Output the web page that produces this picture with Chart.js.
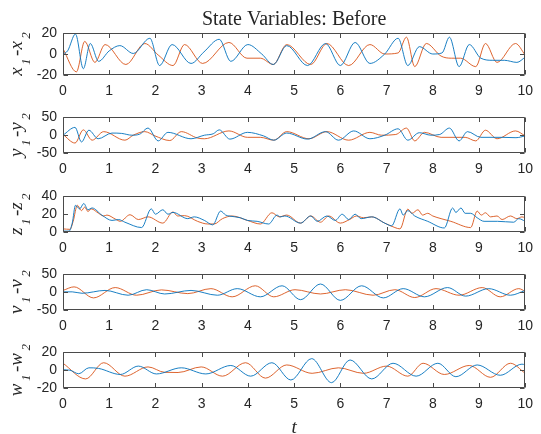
<!DOCTYPE html>
<html><head><meta charset="utf-8">
<script src="https://cdn.jsdelivr.net/npm/chart.js@4"></script>
<style>
html,body{margin:0;padding:0;background:#fff;}
#wrap{position:relative;width:541px;height:434px;overflow:hidden;background:#fff;}
canvas{position:absolute;left:0;}
</style>
</head><body><div id="wrap"></div>
<script>
// ---- data ----
const xTicks = [0,1,2,3,4,5,6,7,8,9,10];

const xBlueT = [0,0.1,0.27,0.44,0.59,0.77,1.0,1.23,1.52,1.88,2.09,2.36,2.77,3.05,3.38,3.63,4.0,4.3,4.55,4.84,5.29,5.68,6.0,6.32,6.64,6.96,7.25,7.46,7.71,8.0,8.2,8.36,8.57,8.79,9.04,9.3,9.55,9.82,10];
const xBlueV = [0,3,19,-14,10,-7,3,8,0.5,15,-11,9,-9,2,14,-7,9,0,-10,8,-11,10,-11,11,-9,0,15,-11,7,0,1,16,-12,9,-4,-6,-6,-8,-3];
const xOrangeT = [0,0.29,0.47,0.69,0.91,1.36,1.77,2.06,2.38,2.63,3.02,3.59,3.98,4.27,4.55,4.84,5.36,5.71,6.18,6.64,6.96,7.25,7.43,7.61,7.86,8.18,8.4,8.6,8.93,9.14,9.39,9.79,10];
const xOrangeV = [5,-17,12,-8,9,-10,10,-1,-11,9,-9,11,-4,-4,-10,9,-10,10,-11,9,0,1,16,-12,10,-2,-4,-4,-12,10,-8,10,-1];

const yBlueT = [0,0.26,0.4,0.56,0.76,1.06,1.27,1.49,1.66,1.84,2.06,2.27,2.77,3.06,3.25,3.38,3.61,3.99,4.34,4.56,4.84,5.29,5.68,5.96,6.29,6.64,6.96,7.25,7.46,7.71,7.96,8.15,8.36,8.57,8.75,9.04,9.5,9.8,10];
const yBlueV = [0,22,-19,14,-10,6,5,0,3,20,-16,8,-10,0,4,15,-11,8,-2,-14,6,-11,10,-14,12,-10,0,18,-14,7,0,2,20,-16,10,-6,-6,-7,-2];
const yOrangeT = [0,0.26,0.44,0.63,0.88,1.34,1.52,1.77,1.99,2.31,2.56,2.91,3.06,3.59,3.99,4.27,4.56,4.84,5.32,5.71,6.18,6.64,6.89,7.2,7.43,7.61,7.82,8.18,8.7,8.93,9.14,9.39,9.79,10];
const yOrangeV = [2,-22,15,-14,10,-14,0,10,-2,-15,10,-8,-10,12,-6,-6,-14,10,-10,10,-14,8,0,2,20,-16,8,-6,-6,-16,14,-10,12,-2];

const zBlueT = [0,0.13,0.2,0.27,0.36,0.45,0.54,0.63,0.84,1.06,1.2,1.34,1.7,1.91,2.0,2.16,2.27,2.38,2.7,2.84,3.06,3.24,3.41,3.52,3.59,3.84,3.99,4.2,4.45,4.63,4.7,4.8,5.14,5.36,5.5,5.71,5.89,6.04,6.18,6.32,6.45,6.68,6.96,7.11,7.29,7.36,7.46,7.61,7.89,8.25,8.43,8.5,8.61,8.7,8.82,8.96,9.11,9.4,9.75,9.86,10];
const zBlueV = [1,1,10,30,26,32,25,27,19,13,14,11,5,26,20,25,20,22,15,17,13,8,23.5,19,18,16,13,12,9,19,17,18,10,18,12,18,13,20,14,20,15,17,10,7,26,19,24,18,12,4.5,27,22,27,21,21,16,12,12,11,15,12];
const zOrangeT = [0,0.15,0.22,0.31,0.4,0.47,0.54,0.61,0.77,0.88,0.95,1.13,1.24,1.45,1.63,1.84,2.16,2.38,2.48,2.63,2.91,3.13,3.27,3.45,3.66,3.99,4.27,4.52,4.68,4.84,5.14,5.36,5.57,5.75,6.0,6.2,6.35,6.5,6.68,6.96,7.18,7.29,7.46,7.55,7.68,7.78,7.89,8.0,8.18,8.39,8.82,8.96,9.05,9.14,9.25,9.39,9.5,9.68,9.82,9.93,10];
const zOrangeV = [3.5,3,12,30,24,28,23,26,21,18,19,14.6,12,19.4,14,17,10,22.5,18,18.4,12,9,9,15,18,13,9,21.6,17,19,10,18,11,18,10,14,18,16,17,10,5,3.5,25.7,21,25,19,21,18,15,12,5,23.5,19,21.6,17,18,14,18,15,17,16];

const vBlueT = [0,0.2,0.41,0.91,1.41,1.81,2.2,2.77,3.34,3.77,4.27,4.74,5.14,5.57,6.0,6.46,6.93,7.36,7.82,8.32,8.71,9.21,9.68,10];
const vBlueV = [1,1,-3,5,-8.5,7,-5,5,-8.5,10,-13,18,-21,23,-23,18,-16,10,-13,13,-11,10,-8.5,5];
const vOrangeT = [0,0.24,0.66,1.13,1.59,2.13,2.7,3.2,3.66,4.16,4.56,5.02,5.57,6.11,6.71,7.18,7.61,8.07,8.57,9.07,9.46,9.86,10];
const vOrangeV = [5,15,-16,13,-8.5,6.5,-4,10,-13,18,-13,7,-5,7,-8.5,7,-15,10,-8.5,13,-13,10,2.5];

const wBlueT = [0,0.15,0.34,0.56,0.77,1.24,1.63,2.02,2.56,3.09,3.63,4.06,4.52,4.93,5.38,5.81,6.21,6.68,7.14,7.64,8.11,8.5,8.96,9.46,9.93,10];
const wBlueV = [0.5,0,-4,2.7,2,-4.8,4.6,-4.2,2.7,-4.2,5.3,-6.7,8.4,-11,13,-14,11.5,-9.8,7.8,-6.7,7.8,-7.3,5.9,-5.7,6.8,6];
const wOrangeT = [0,0.49,0.88,1.34,1.84,2.2,2.49,2.99,3.45,3.95,4.38,4.84,5.39,5.96,6.5,7.0,7.46,7.79,8.25,8.79,9.25,9.68,10];
const wOrangeV = [7.8,-9.8,8.4,-6.7,3.7,-2.4,-2.6,3.7,-6.7,8.4,-8.9,5.9,-3.5,2.7,-3.5,4.6,-6.7,7.8,-4.8,5.3,-8,7.8,-3.5];

const yTicksXW = [-20, 0, 20];
const yTicksYV = [-50, 0, 50];
const yTicksZ = [0, 20, 40];

const titleText = 'State Variables: Before';
const xLabelText = 't';

// ---- style ----
const BLUE = '#0072BD', ORANGE = '#D95319';
const AXIS = '#4a4a4a', TEXT = '#262626';
const SANS = "'Liberation Sans', Arial, sans-serif";
const SERIF = "'Liberation Serif', 'Times New Roman', serif";
const LEFT = 63, RIGHT_PAD = 10, PLOT_H = 42, XAX_H = 22, TL = 4.5;

const panels = [
  {letter:'x', bt:xBlueT, bv:xBlueV, ot:xOrangeT, ov:xOrangeV, yt:yTicksXW, top:33},
  {letter:'y', bt:yBlueT, bv:yBlueV, ot:yOrangeT, ov:yOrangeV, yt:yTicksYV, top:111},
  {letter:'z', bt:zBlueT, bv:zBlueV, ot:zOrangeT, ov:zOrangeV, yt:yTicksZ, top:190},
  {letter:'v', bt:vBlueT, bv:vBlueV, ot:vOrangeT, ov:vOrangeV, yt:yTicksYV, top:268},
  {letter:'w', bt:wBlueT, bv:wBlueV, ot:wOrangeT, ov:wOrangeV, yt:yTicksXW, top:346}
];

const pts = (t, v) => t.map((tt, i) => ({x: tt, y: v[i]}));

const boxPlugin = {
  id: 'boxPlugin',
  afterDatasetsDraw(chart, args, o) {
    const {ctx, chartArea: a, scales: {x, y}} = chart;
    const L = Math.round(a.left) + 0.5, R = Math.round(a.right) - 0.5;
    const T = Math.round(a.top) + 0.5, B = Math.round(a.bottom) - 0.5;
    ctx.save();
    ctx.strokeStyle = AXIS; ctx.lineWidth = 1;
    ctx.beginPath();
    ctx.moveTo(L, T); ctx.lineTo(R, T); ctx.lineTo(R, B); ctx.lineTo(L, B); ctx.closePath();
    x.ticks.forEach(tk => {
      const px = Math.round(x.getPixelForValue(tk.value)) + 0.5;
      ctx.moveTo(px, B); ctx.lineTo(px, B - TL);
      ctx.moveTo(px, T); ctx.lineTo(px, T + TL);
    });
    y.ticks.forEach(tk => {
      const py = Math.round(y.getPixelForValue(tk.value)) + 0.5;
      ctx.moveTo(L, py); ctx.lineTo(L + TL, py);
      ctx.moveTo(R, py); ctx.lineTo(R - TL, py);
    });
    ctx.stroke();

    // y label with subscripts, rotated
    const cy = (a.top + a.bottom) / 2;
    const parts = [[o.letter, 19, 0], ['1', 13, 8], ['-' + o.letter, 19, 0], ['2', 13, 8]];
    const gap = 2.5;
    let total = 0;
    parts.forEach(p => { ctx.font = 'italic ' + p[1] + 'px ' + SERIF; total += ctx.measureText(p[0]).width + gap; });
    total -= gap;
    ctx.translate(22, cy);
    ctx.rotate(-Math.PI / 2);
    ctx.fillStyle = TEXT; ctx.textBaseline = 'alphabetic'; ctx.textAlign = 'left';
    let cx = -total / 2;
    parts.forEach(p => {
      ctx.font = 'italic ' + p[1] + 'px ' + SERIF;
      ctx.fillText(p[0], cx, p[2]);
      cx += ctx.measureText(p[0]).width + gap;
    });
    ctx.restore();

    ctx.save();
    ctx.fillStyle = TEXT; ctx.textAlign = 'center'; ctx.textBaseline = 'alphabetic';
    if (o.title) {
      ctx.font = '20px ' + SERIF;
      ctx.fillText(o.title, (a.left + a.right) / 2, a.top - 8);
    }
    if (o.xlabel) {
      ctx.font = 'italic 19px ' + SERIF;
      ctx.fillText(o.xlabel, (a.left + a.right) / 2, a.bottom + 45);
    }
    ctx.restore();
  }
};

const wrap = document.getElementById('wrap');
panels.forEach((p, i) => {
  const padTop = i === 0 ? p.top : 8;
  const padBottom = i === panels.length - 1 ? 24 : 0;
  const h = padTop + PLOT_H + XAX_H + padBottom;
  const c = document.createElement('canvas');
  c.width = 541; c.height = h;
  c.style.top = (p.top - padTop) + 'px';
  c.style.width = '541px'; c.style.height = h + 'px';
  wrap.appendChild(c);
  new Chart(c, {
    type: 'line',
    data: {
      datasets: [
        {data: pts(p.bt, p.bv), borderColor: BLUE, borderWidth: 0.9, pointRadius: 0, cubicInterpolationMode: 'monotone', fill: false},
        {data: pts(p.ot, p.ov), borderColor: ORANGE, borderWidth: 0.9, pointRadius: 0, cubicInterpolationMode: 'monotone', fill: false}
      ]
    },
    options: {
      responsive: false, animation: false, devicePixelRatio: 1,
      layout: {padding: {top: padTop, right: RIGHT_PAD, left: 0, bottom: padBottom}},
      plugins: {
        legend: {display: false}, tooltip: {enabled: false},
        boxPlugin: {letter: p.letter, title: i === 0 ? titleText : null, xlabel: i === panels.length - 1 ? xLabelText : null}
      },
      scales: {
        x: {
          type: 'linear', min: 0, max: 10,
          afterBuildTicks: s => { s.ticks = xTicks.map(v => ({value: v})); },
          ticks: {font: {family: SANS, size: 14}, color: TEXT, padding: 8, maxRotation: 0, autoSkip: false},
          grid: {display: false, drawTicks: false}, border: {display: false},
          afterFit: s => { s.height = XAX_H; }
        },
        y: {
          type: 'linear', min: p.yt[0], max: p.yt[p.yt.length - 1],
          afterBuildTicks: s => { s.ticks = p.yt.map(v => ({value: v})); },
          ticks: {font: {family: SANS, size: 14}, color: TEXT, padding: 6, autoSkip: false},
          grid: {display: false, drawTicks: false}, border: {display: false},
          afterFit: s => { s.width = LEFT; }
        }
      }
    },
    plugins: [boxPlugin]
  });
});
</script>
</body></html>
